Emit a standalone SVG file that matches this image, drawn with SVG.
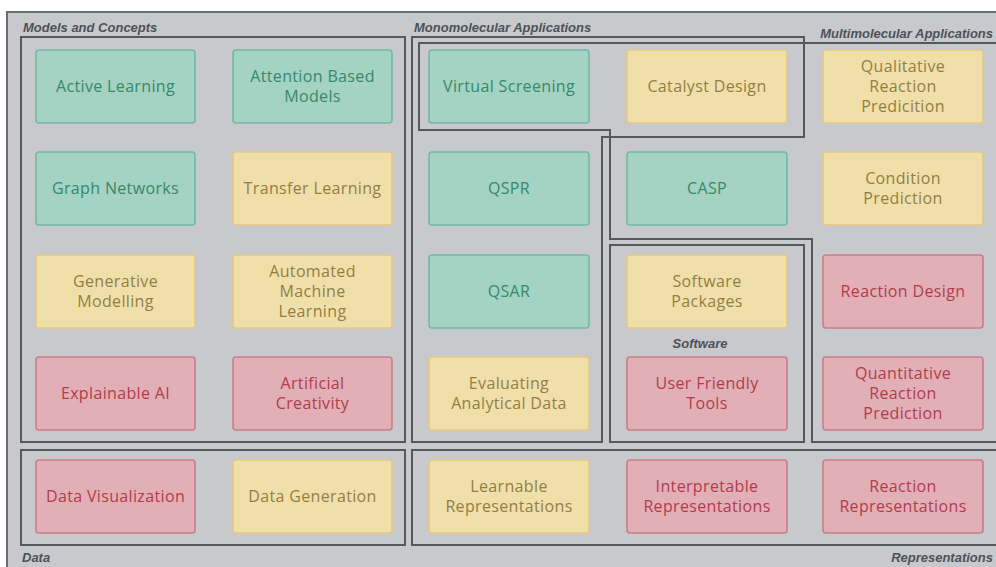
<svg xmlns="http://www.w3.org/2000/svg" width="996" height="567" viewBox="0 0 996 567">
<style>
.frame{fill:none;stroke:#55595e;stroke-width:2}
.lbl{font-family:"Liberation Sans",Arial,sans-serif;font-weight:bold;font-style:italic;font-size:13px;fill:#4d5258}
.n rect{stroke-width:1.6}
.n text{font-family:"Open Sans","Liberation Sans",sans-serif;font-size:16px;letter-spacing:0.35px;text-anchor:middle}
.g rect{fill:#a4d2c3;stroke:#72b8a2}
.g text{fill:#36896a}
.y rect{fill:#f1dfa9;stroke:#e4c983}
.y text{fill:#8f7f45}
.r rect{fill:#e1afb5;stroke:#c97e88}
.r text{fill:#b23c4c}
</style>
<rect x="0" y="0" width="996" height="567" fill="#ffffff"/>
<rect x="7" y="12" width="1000" height="570" fill="#c7c9cc" stroke="#6a6e73" stroke-width="2"/>

<g id="groups">
<rect class="frame" x="21" y="37" width="384" height="405"/>
<path class="frame" d="M412,442 L412,37 L804,37 L804,137 L602,137 L602,442 Z"/>
<path class="frame" d="M1000,43 L419,43 L419,130 L610,130 L610,239 L812,239 L812,442 L1000,442"/>
<rect class="frame" x="610" y="245" width="194" height="197"/>
<rect class="frame" x="21" y="450" width="384" height="95"/>
<path class="frame" d="M1000,450 L412,450 L412,545 L1000,545"/>
</g>

<g id="labels">
<text class="lbl" x="23" y="32">Models and Concepts</text>
<text class="lbl" x="414" y="32">Monomolecular Applications</text>
<text class="lbl" x="993" y="38" text-anchor="end">Multimolecular Applications</text>
<text class="lbl" x="700" y="348" text-anchor="middle" font-size="11.5px">Software</text>
<text class="lbl" x="22" y="562">Data</text>
<text class="lbl" x="993" y="562" text-anchor="end">Representations</text>
</g>

<g id="connectors"></g>

<g id="n-active" class="n g"><rect x="36" y="50" width="159" height="73" rx="3"/><text x="115.5" y="92">Active Learning</text></g>
<g id="n-attention" class="n g"><rect x="233" y="50" width="159" height="73" rx="3"/><text x="312.5" y="82">Attention Based</text><text x="312.5" y="102">Models</text></g>
<g id="n-graph" class="n g"><rect x="36" y="152" width="159" height="73" rx="3"/><text x="115.5" y="194">Graph Networks</text></g>
<g id="n-transfer" class="n y"><rect x="233" y="152" width="159" height="73" rx="3"/><text x="312.5" y="194">Transfer Learning</text></g>
<g id="n-generative" class="n y"><rect x="36" y="255" width="159" height="73" rx="3"/><text x="115.5" y="287">Generative</text><text x="115.5" y="307">Modelling</text></g>
<g id="n-automl" class="n y"><rect x="233" y="255" width="159" height="73" rx="3"/><text x="312.5" y="277">Automated</text><text x="312.5" y="297">Machine</text><text x="312.5" y="317">Learning</text></g>
<g id="n-xai" class="n r"><rect x="36" y="357" width="159" height="73" rx="3"/><text x="115.5" y="399">Explainable AI</text></g>
<g id="n-creativity" class="n r"><rect x="233" y="357" width="159" height="73" rx="3"/><text x="312.5" y="389">Artificial</text><text x="312.5" y="409">Creativity</text></g>

<g id="n-vs" class="n g"><rect x="429" y="50" width="160" height="73" rx="3"/><text x="509" y="92">Virtual Screening</text></g>
<g id="n-catalyst" class="n y"><rect x="627" y="50" width="160" height="73" rx="3"/><text x="707" y="92">Catalyst Design</text></g>
<g id="n-qual" class="n y"><rect x="823" y="50" width="160" height="73" rx="3"/><text x="903" y="72">Qualitative</text><text x="903" y="92">Reaction</text><text x="903" y="112">Predicition</text></g>
<g id="n-qspr" class="n g"><rect x="429" y="152" width="160" height="73" rx="3"/><text x="509" y="194">QSPR</text></g>
<g id="n-casp" class="n g"><rect x="627" y="152" width="160" height="73" rx="3"/><text x="707" y="194">CASP</text></g>
<g id="n-cond" class="n y"><rect x="823" y="152" width="160" height="73" rx="3"/><text x="903" y="184">Condition</text><text x="903" y="204">Prediction</text></g>
<g id="n-qsar" class="n g"><rect x="429" y="255" width="160" height="73" rx="3"/><text x="509" y="297">QSAR</text></g>
<g id="n-software" class="n y"><rect x="627" y="255" width="160" height="73" rx="3"/><text x="707" y="287">Software</text><text x="707" y="307">Packages</text></g>
<g id="n-rdesign" class="n r"><rect x="823" y="255" width="160" height="73" rx="3"/><text x="903" y="297">Reaction Design</text></g>
<g id="n-eval" class="n y"><rect x="429" y="357" width="160" height="73" rx="3"/><text x="509" y="389">Evaluating</text><text x="509" y="409">Analytical Data</text></g>
<g id="n-uft" class="n r"><rect x="627" y="357" width="160" height="73" rx="3"/><text x="707" y="389">User Friendly</text><text x="707" y="409">Tools</text></g>
<g id="n-quant" class="n r"><rect x="823" y="357" width="160" height="73" rx="3"/><text x="903" y="379">Quantitative</text><text x="903" y="399">Reaction</text><text x="903" y="419">Prediction</text></g>

<g id="n-dataviz" class="n r"><rect x="36" y="460" width="159" height="73" rx="3"/><text x="115.5" y="502">Data Visualization</text></g>
<g id="n-datagen" class="n y"><rect x="233" y="460" width="159" height="73" rx="3"/><text x="312.5" y="502">Data Generation</text></g>
<g id="n-learn" class="n y"><rect x="429" y="460" width="160" height="73" rx="3"/><text x="509" y="492">Learnable</text><text x="509" y="512">Representations</text></g>
<g id="n-interp" class="n r"><rect x="627" y="460" width="160" height="73" rx="3"/><text x="707" y="492">Interpretable</text><text x="707" y="512">Representations</text></g>
<g id="n-reactrep" class="n r"><rect x="823" y="460" width="160" height="73" rx="3"/><text x="903" y="492">Reaction</text><text x="903" y="512">Representations</text></g>
</svg>
